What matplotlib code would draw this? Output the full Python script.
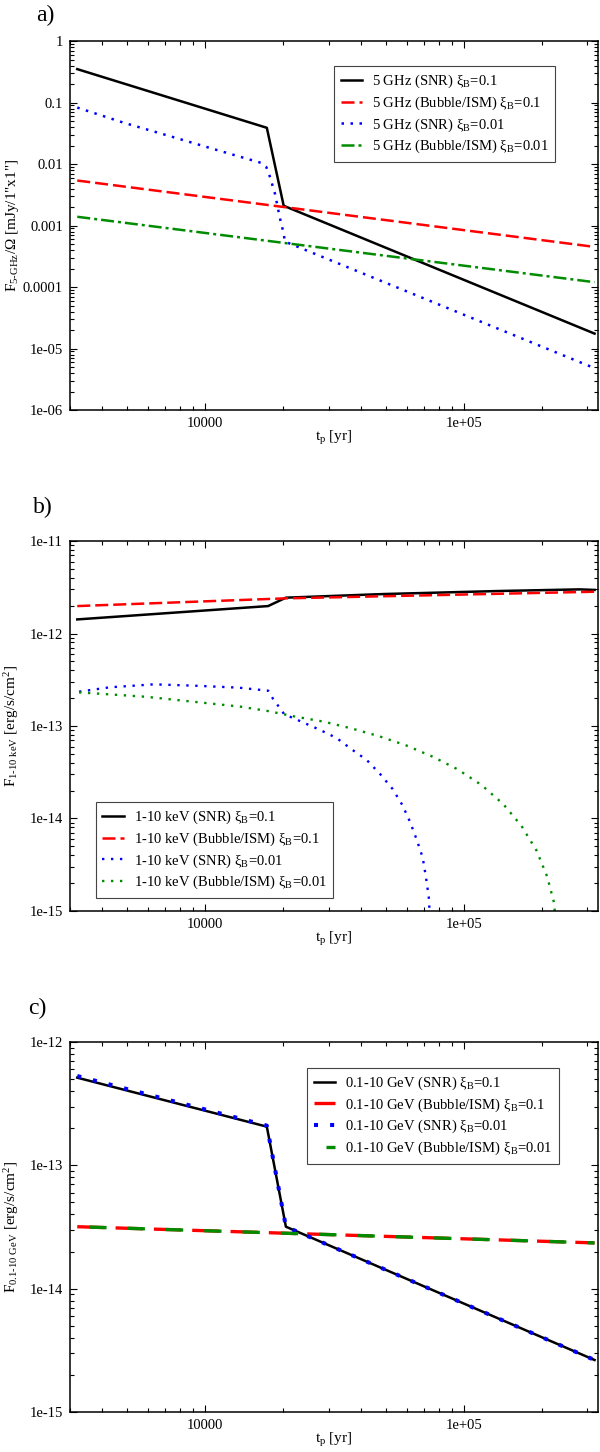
import matplotlib
matplotlib.use("Agg")
import matplotlib.pyplot as plt
from matplotlib.ticker import LogLocator, NullFormatter

plt.rcParams['font.family'] = ['Liberation Serif', 'DejaVu Serif']
plt.rcParams['mathtext.fontset'] = 'custom'
plt.rcParams['mathtext.rm'] = 'Liberation Serif'
plt.rcParams['mathtext.it'] = 'Liberation Serif:italic'

# ---- panel a : 5 GHz surface brightness
t_a_snr = [3200, 17300, 20100, 320000]
f5_snr_01 = [0.35, 0.0389, 0.0021, 1.75e-5]
t_a_bub = [3200, 320000]
f5_bub_01 = [0.0054, 4.5e-4]
f5_bub_001 = [0.00139, 1.2e-4]
t_a_snr2 = [3200, 4840, 7290, 10900, 16400, 17200, 17700, 18600, 19200,
            19600, 20100, 20300, 320000]
f5_snr_001 = [0.083, 0.047, 0.0285, 0.0173, 0.0105, 0.0090, 0.0066, 0.0033,
              0.0017, 0.00113, 7.5e-4, 5.5e-4, 4.8e-6]

# ---- panel b : 1-10 keV flux
t_b_snr = [3200, 17500, 20500, 48700, 136000, 280000, 320000]
fx_snr_01 = [1.42e-12, 1.98e-12, 2.44e-12, 2.67e-12, 2.88e-12, 3.0e-12, 2.96e-12]
t_b_bub = [3200, 20500, 320000]
fx_bub_01 = [1.98e-12, 2.4e-12, 2.83e-12]
t_b_snr2 = [3250, 4270, 6310, 9030, 13400, 17500, 18300, 19300, 20200, 23600,
            27800, 32200, 36800, 42100, 47400, 52900, 57800, 61900, 65700,
            69300, 71200, 73100, 73500, 73800]
fx_snr_001 = [2.35e-13, 2.62e-13, 2.82e-13, 2.73e-13, 2.6e-13, 2.41e-13,
              1.96e-13, 1.6e-13, 1.34e-13, 1.11e-13, 9.06e-14, 7.41e-14,
              5.6e-14, 4.29e-14, 3.03e-14, 2.1e-14, 1.4e-14, 9.2e-15, 5.9e-15,
              3.77e-15, 2.39e-15, 1.43e-15, 1.1e-15, 5e-16]
t_b_bub2 = [3250, 5900, 10900, 13650, 17500, 22400, 28900, 37100, 47100, 59700,
            75700, 94600, 117000, 142000, 167000, 191000, 210000, 219000,
            224000, 226000]
fx_bub_001 = [2.31e-13, 2.07e-13, 1.73e-13, 1.62e-13, 1.45e-13, 1.26e-13,
              1.11e-13, 9.35e-14, 7.74e-14, 6.18e-14, 4.66e-14, 3.4e-14,
              2.3e-14, 1.43e-14, 8.3e-15, 4.49e-15, 2.34e-15, 1.49e-15,
              1.18e-15, 5e-16]

# ---- panel c : 0.1-10 GeV flux
t_c_snr = [3200, 17300, 20500, 320000]
fg_snr_01 = [5.14e-13, 2.06e-13, 3.18e-14, 2.64e-15]
fg_snr_001 = [5.3e-13, 2.1e-13, 3.18e-14, 2.64e-15]
t_c_bub = [3200, 320000]
fg_bub_01 = [3.18e-14, 2.35e-14]
fg_bub_001 = [3.18e-14, 2.35e-14]

# ticks
xticks = [1e4, 1e5]
xtick_labels = ['10000', '1e+05']
yticks_a = [1e-6, 1e-5, 1e-4, 1e-3, 1e-2, 1e-1, 1]
ytick_labels_a = ['1e-06', '1e-05', '0.0001', '0.001', '0.01', '0.1', '1']
yticks_b = [1e-15, 1e-14, 1e-13, 1e-12, 1e-11]
ytick_labels_b = ['1e-15', '1e-14', '1e-13', '1e-12', '1e-11']
yticks_c = [1e-15, 1e-14, 1e-13, 1e-12]
ytick_labels_c = ['1e-15', '1e-14', '1e-13', '1e-12']

BLACK = 'black'
RED = '#ff0000'
BLUE = '#0000ff'
GREEN = '#008c00'

fig = plt.figure(figsize=(6, 14.52), dpi=100)
ax_a = fig.add_axes([0.1167, 0.7176, 0.88, 0.2541])
ax_b = fig.add_axes([0.1167, 0.3726, 0.88, 0.2548])
ax_c = fig.add_axes([0.1167, 0.02755, 0.88, 0.2548])


def style_axis(ax, yticks, ylabels, ylim):
    ax.set_xscale('log')
    ax.set_yscale('log')
    ax.set_xlim(3000, 3.3e5)
    ax.set_ylim(*ylim)
    ax.set_xticks(xticks)
    ax.set_xticklabels(xtick_labels)
    ax.set_yticks(yticks)
    ax.set_yticklabels(ylabels)
    ax.xaxis.set_minor_locator(LogLocator(base=10, subs=range(2, 10)))
    ax.yaxis.set_minor_locator(LogLocator(base=10, subs=range(2, 10)))
    ax.xaxis.set_minor_formatter(NullFormatter())
    ax.yaxis.set_minor_formatter(NullFormatter())
    ax.tick_params(which='both', direction='in', top=True, right=True,
                   labelsize=10.5, width=0.8, pad=5)
    ax.tick_params(which='major', length=5)
    ax.tick_params(which='minor', length=2.8)
    for s in ax.spines.values():
        s.set_linewidth(1.1)
    ax.set_xlabel('t$_{\\rm p}$ [yr]', fontsize=11)
    ax.xaxis.set_label_coords(0.5, -0.052)
    ax.yaxis.set_label_coords(-0.093, 0.5)


def legend(ax, loc, anchor):
    leg = ax.legend(loc=loc, bbox_to_anchor=anchor, borderaxespad=0,
                    fontsize=10.5, fancybox=False, framealpha=1,
                    edgecolor='#444444', handlelength=1.45,
                    handletextpad=0.7, labelspacing=0.3, borderpad=0.45)
    leg.get_frame().set_linewidth(0.8)


# panel a
ax_a.plot(t_a_snr, f5_snr_01, color=BLACK, lw=1.8,
          label='5 GHz (SNR) ξ$_{\\rm B}$=0.1')
ax_a.plot(t_a_bub, f5_bub_01, color=RED, lw=1.8, ls=(0, (5.2, 2.0)),
          label='5 GHz (Bubble/ISM) ξ$_{\\rm B}$=0.1')
ax_a.plot(t_a_snr2, f5_snr_001, color=BLUE, lw=1.8, ls=(0, (1, 2.6)),
          label='5 GHz (SNR) ξ$_{\\rm B}$=0.01')
ax_a.plot(t_a_bub, f5_bub_001, color=GREEN, lw=1.8, ls=(0, (5.2, 1.6, 1.2, 1.6)),
          label='5 GHz (Bubble/ISM) ξ$_{\\rm B}$=0.01')
style_axis(ax_a, yticks_a, ytick_labels_a, (1e-6, 1))
ax_a.set_ylabel('F$_{\\rm 5\u2010GHz}$/Ω [mJy/1"x1"]', fontsize=11)
legend(ax_a, 'upper left', (0.5, 0.932))

# panel b
ax_b.plot(t_b_snr, fx_snr_01, color=BLACK, lw=1.8,
          label='1-10 keV (SNR) ξ$_{\\rm B}$=0.1')
ax_b.plot(t_b_bub, fx_bub_01, color=RED, lw=1.8, ls=(0, (5.2, 2.0)),
          label='1-10 keV (Bubble/ISM) ξ$_{\\rm B}$=0.1')
ax_b.plot(t_b_snr2, fx_snr_001, color=BLUE, lw=1.7, ls=(0, (1, 2.8)),
          label='1-10 keV (SNR) ξ$_{\\rm B}$=0.01')
ax_b.plot(t_b_bub2, fx_bub_001, color=GREEN, lw=1.7, ls=(0, (1, 2.8)),
          label='1-10 keV (Bubble/ISM) ξ$_{\\rm B}$=0.01')
style_axis(ax_b, yticks_b, ytick_labels_b, (1e-15, 1e-11))
ax_b.set_ylabel('F$_{\\rm 1\u201010\\ keV}$ [erg/s/cm$^{2}$]', fontsize=11)
legend(ax_b, 'lower left', (0.049, 0.035))

# panel c
ax_c.plot(t_c_snr, fg_snr_01, color=BLACK, lw=1.8,
          label='0.1-10 GeV (SNR) ξ$_{\\rm B}$=0.1')
ax_c.plot(t_c_bub, fg_bub_01, color=RED, lw=2.4, ls=(0, (8.2, 3.3)),
          label='0.1-10 GeV (Bubble/ISM) ξ$_{\\rm B}$=0.1')
ax_c.plot(t_c_snr, fg_snr_001, color=BLUE, lw=2.9, ls=(0, (1, 3.0)),
          label='0.1-10 GeV (SNR) ξ$_{\\rm B}$=0.01')
ax_c.plot(t_c_bub, fg_bub_001, color=GREEN, lw=2.4, ls=(7.9, (5.2, 6.3)),
          label='0.1-10 GeV (Bubble/ISM) ξ$_{\\rm B}$=0.01')
style_axis(ax_c, yticks_c, ytick_labels_c, (1e-15, 1e-12))
ax_c.set_ylabel('F$_{\\rm 0.1\u201010\\ GeV}$ [erg/s/cm$^{2}$]', fontsize=11)
legend(ax_c, 'upper left', (0.449, 0.93))

fig.text(0.075, 0.9897, 'a)', fontsize=17, ha='center', va='center')
fig.text(0.0717, 0.6508, 'b)', fontsize=17, ha='center', va='center')
fig.text(0.0617, 0.3058, 'c)', fontsize=17, ha='center', va='center')

fig.savefig('out.png', dpi=100)
